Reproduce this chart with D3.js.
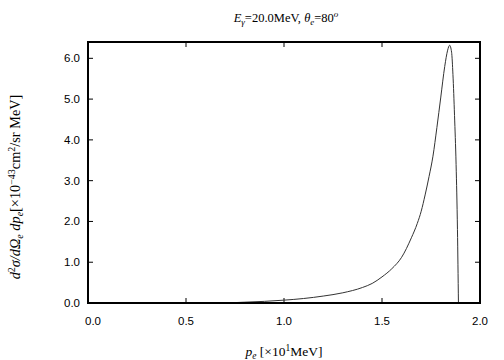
<!DOCTYPE html>
<html>
<head>
<meta charset="UTF-8">
<script src="https://d3js.org/d3.v7.min.js"></script>
<style>
  body { margin: 0; background: #fff; }
  .tick-label { font-family: "Liberation Sans", Arial, sans-serif; font-size: 11.5px; fill: #000; }
  .serif { font-family: "Liberation Serif", "Times New Roman", serif; fill: #000; }
</style>
</head>
<body>
<svg width="504" height="360"></svg>
<script>
// electron momentum [x10 MeV] and cross section [x10^-43 cm^2/sr MeV]
const pe = [0.70, 0.80, 0.90, 1.00, 1.10, 1.20, 1.30, 1.40, 1.45, 1.50, 1.55, 1.60, 1.65,
            1.68, 1.70, 1.72, 1.74, 1.76, 1.78, 1.80, 1.82, 1.835, 1.845, 1.855, 1.862, 1.87, 1.878, 1.885, 1.89];
const xsec = [0.0, 0.02, 0.04, 0.07, 0.11, 0.17, 0.25, 0.38, 0.48, 0.64, 0.84, 1.12, 1.60,
              1.95, 2.25, 2.65, 3.1, 3.6, 4.3, 5.05, 5.8, 6.2, 6.32, 6.15, 5.6, 4.6, 3.4, 1.8, 0.0];
const xTicks = [0.0, 0.5, 1.0, 1.5, 2.0];
const yTicks = [0, 1, 2, 3, 4, 5, 6];

const svg = d3.select("svg");
const mLeft = 88, mRight = 480, mTop = 42, mBottom = 303;

const x = d3.scaleLinear().domain([0, 2]).range([mLeft, mRight]);
const y = d3.scaleLinear().domain([0, 6.4]).range([mBottom, mTop]);

// ticks on all four sides, pointing inward
const tk = 5;
const g = svg.append("g").attr("stroke", "#000").attr("stroke-width", 1);
xTicks.forEach(v => {
  g.append("line").attr("x1", x(v)).attr("x2", x(v)).attr("y1", mBottom).attr("y2", mBottom - tk);
  g.append("line").attr("x1", x(v)).attr("x2", x(v)).attr("y1", mTop).attr("y2", mTop + tk);
});
yTicks.forEach(v => {
  g.append("line").attr("x1", mLeft).attr("x2", mLeft + tk).attr("y1", y(v)).attr("y2", y(v));
  g.append("line").attr("x1", mRight).attr("x2", mRight - tk).attr("y1", y(v)).attr("y2", y(v));
});

// curve
const line = d3.line().x((d, i) => x(pe[i])).y(d => y(d)).curve(d3.curveMonotoneX);
svg.append("path")
  .datum(xsec)
  .attr("d", line)
  .attr("fill", "none")
  .attr("stroke", "#333")
  .attr("stroke-width", 1);

// frame
svg.append("rect")
  .attr("x", mLeft).attr("y", mTop)
  .attr("width", mRight - mLeft).attr("height", mBottom - mTop)
  .attr("fill", "none").attr("stroke", "#000").attr("stroke-width", 2);

// tick labels
svg.append("g").selectAll("text").data(xTicks).join("text")
  .attr("class", "tick-label")
  .attr("x", d => x(d) + (d === 0 ? 5 : 0))
  .attr("y", 325)
  .attr("text-anchor", "middle")
  .text(d => d.toFixed(1));

svg.append("g").selectAll("text").data(yTicks).join("text")
  .attr("class", "tick-label")
  .attr("x", 80)
  .attr("y", d => y(d) + 4)
  .attr("text-anchor", "end")
  .text(d => d.toFixed(1));

// title
const title = svg.append("text").attr("class", "serif")
  .attr("x", 286).attr("y", 22).attr("text-anchor", "middle").attr("font-size", 12.5);
title.append("tspan").attr("font-style", "italic").text("E");
title.append("tspan").attr("font-style", "italic").attr("font-size", 9).attr("dy", 3).text("γ");
title.append("tspan").attr("dy", -3).text("=20.0MeV,  ");
title.append("tspan").attr("font-style", "italic").text("θ");
title.append("tspan").attr("font-style", "italic").attr("font-size", 9).attr("dy", 3).text("e");
title.append("tspan").attr("dy", -3).text("=80");
title.append("tspan").attr("font-style", "italic").attr("font-size", 9).attr("dy", -5).text("o");

// x label
const xl = svg.append("text").attr("class", "serif")
  .attr("x", 284).attr("y", 356).attr("text-anchor", "middle").attr("font-size", 13.5);
xl.append("tspan").attr("font-style", "italic").text("p");
xl.append("tspan").attr("font-style", "italic").attr("font-size", 9.5).attr("dy", 3).text("e");
xl.append("tspan").attr("dy", -3).text(" [×10");
xl.append("tspan").attr("font-size", 9.5).attr("dy", -5).text("1");
xl.append("tspan").attr("dy", 5).text("MeV]");

// y label
const yl = svg.append("text").attr("class", "serif")
  .attr("transform", "translate(20,187) rotate(-90)")
  .attr("text-anchor", "middle").attr("font-size", 14.3);
yl.append("tspan").attr("font-style", "italic").text("d");
yl.append("tspan").attr("font-size", 10).attr("dy", -5).text("2");
yl.append("tspan").attr("font-style", "italic").attr("dy", 5).text("σ/dΩ");
yl.append("tspan").attr("font-style", "italic").attr("font-size", 10).attr("dy", 3).text("e");
yl.append("tspan").attr("font-style", "italic").attr("dy", -3).text(" dp");
yl.append("tspan").attr("font-style", "italic").attr("font-size", 10).attr("dy", 3).text("e");
yl.append("tspan").attr("dy", -3).text("[×10");
yl.append("tspan").attr("font-size", 10).attr("dy", -5).text("−43");
yl.append("tspan").attr("dy", 5).text("cm");
yl.append("tspan").attr("font-size", 10).attr("dy", -5).text("2");
yl.append("tspan").attr("dy", 5).text("/sr MeV]");
</script>
</body>
</html>
